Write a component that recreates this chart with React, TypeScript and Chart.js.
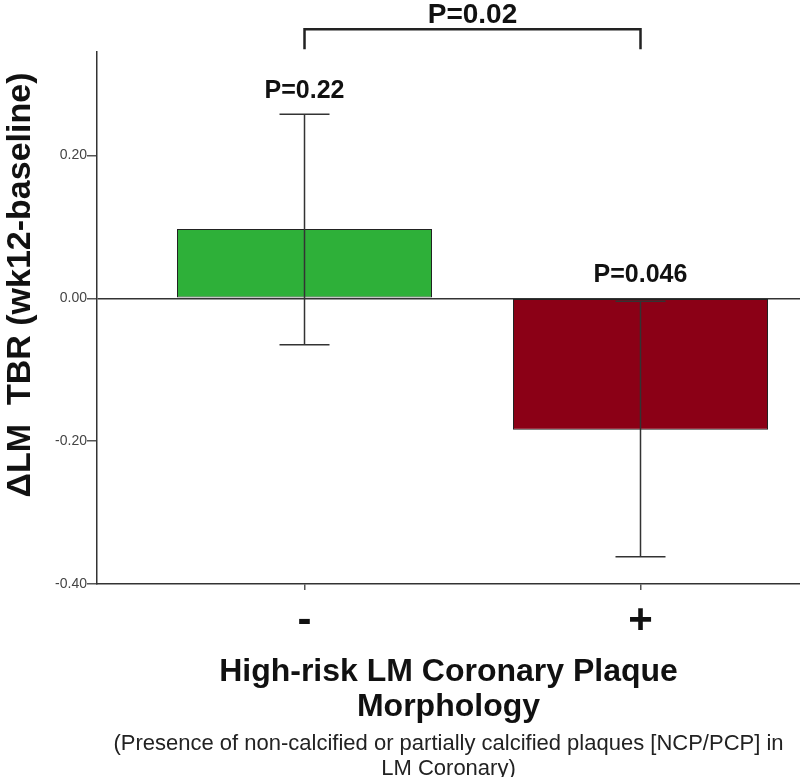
import React, { useEffect, useRef } from "react";
import { Chart, registerables } from "chart.js";

Chart.register(...registerables);

// ---- data ----
const categories = ["-", "+"];
const positions = [0, 1];
const means = [0.097, -0.184];
const errLow = [-0.065, -0.362];
const errHigh = [0.258, -0.004];
const pLabels = ["P=0.22", "P=0.046"];
const barColors = ["#2eb039", "#8b0016"];
const yTicks = [-0.4, -0.2, 0, 0.2];
const comparisonLabel = "P=0.02";
const bracketLevel = 0.377;
const bracketLegEnd = 0.349;
const yTitle = "ΔLM  TBR (wk12-baseline)";
const xTitle = ["High-risk LM Coronary Plaque", "Morphology"];
const xSubtitle = [
  "(Presence of non-calcified or partially calcified plaques [NCP/PCP] in",
  "LM Coronary)",
];

const FONT = "'Liberation Sans', Arial, Helvetica, sans-serif";
const W = 800;
const H = 777;

const annotations = {
  id: "annotations",
  afterDatasetsDraw(chart: any) {
    const { ctx, chartArea } = chart;
    const x = chart.scales.x;
    const y = chart.scales.y;
    ctx.save();
    // error bars
    ctx.strokeStyle = "#333";
    ctx.lineWidth = 1.5;
    positions.forEach((p, i) => {
      const px = x.getPixelForValue(p);
      const top = y.getPixelForValue(errHigh[i]);
      const bot = y.getPixelForValue(errLow[i]);
      ctx.beginPath();
      ctx.moveTo(px, top);
      ctx.lineTo(px, bot);
      ctx.moveTo(px - 25, top);
      ctx.lineTo(px + 25, top);
      ctx.moveTo(px - 25, bot);
      ctx.lineTo(px + 25, bot);
      ctx.stroke();
    });
    // per-group p labels
    ctx.fillStyle = "#111";
    ctx.textAlign = "center";
    ctx.textBaseline = "alphabetic";
    ctx.font = `bold 25px ${FONT}`;
    positions.forEach((p, i) => {
      const px = x.getPixelForValue(p);
      const anchor = y.getPixelForValue(Math.max(0, errHigh[i]));
      ctx.fillText(pLabels[i], px, anchor - 16.5);
    });
    // comparison bracket
    const x0 = x.getPixelForValue(positions[0]);
    const x1 = x.getPixelForValue(positions[1]);
    const by = y.getPixelForValue(bracketLevel);
    const ly = y.getPixelForValue(bracketLegEnd);
    ctx.strokeStyle = "#222";
    ctx.lineWidth = 2.5;
    ctx.beginPath();
    ctx.moveTo(x0, ly);
    ctx.lineTo(x0, by);
    ctx.lineTo(x1, by);
    ctx.lineTo(x1, ly);
    ctx.stroke();
    ctx.font = `bold 28px ${FONT}`;
    ctx.fillText(comparisonLabel, (x0 + x1) / 2, by - 6);
    // y-axis title
    ctx.save();
    ctx.translate(21, (chartArea.top + chartArea.bottom) / 2 - 33);
    ctx.rotate(-Math.PI / 2);
    ctx.font = `bold 34px ${FONT}`;
    ctx.textBaseline = "middle";
    ctx.fillText(yTitle, 0, 0);
    ctx.restore();
    // explanatory subtitle
    ctx.font = `22px ${FONT}`;
    ctx.fillStyle = "#222";
    const cx = (chartArea.left + chartArea.right) / 2;
    ctx.fillText(xSubtitle[0], cx, 750);
    ctx.fillText(xSubtitle[1], cx, 775);
    ctx.restore();
  },
};

export default function App() {
  const ref = useRef<HTMLCanvasElement | null>(null);
  useEffect(() => {
    if (!ref.current) return;
    Chart.defaults.font.family = FONT;
    const chart = new Chart(ref.current, {
      type: "bar",
      data: {
        datasets: [
          {
            data: positions.map((p, i) => ({ x: p, y: means[i] })),
            backgroundColor: barColors,
            borderColor: "#222",
            borderWidth: 1,
            borderSkipped: false,
            categoryPercentage: 1,
            barPercentage: 0.759,
          } as any,
        ],
      },
      options: {
        responsive: false,
        animation: false,
        layout: { padding: { top: 52, left: 0, right: 0, bottom: 50 } },
        plugins: { legend: { display: false }, tooltip: { enabled: false } },
        scales: {
          x: {
            type: "linear",
            offset: false,
            min: -0.6176,
            max: 1.4747,
            afterBuildTicks: (s: any) => {
              s.ticks = positions.map((v) => ({ value: v }));
            },
            afterFit: (s: any) => {
              s.height = H - 584 - 50;
            },
            grid: { offset: false, drawOnChartArea: false, drawTicks: true, tickLength: 6, color: "#555", lineWidth: 1.5 },
            border: { color: "#333", width: 1.5 },
            ticks: {
              callback: (v: any) => {
                const i = positions.indexOf(Number(v));
                return i >= 0 ? categories[i] : "";
              },
              font: { size: 42, weight: "bold", lineHeight: 1 },
              color: "#111",
              padding: 10,
              autoSkip: false,
              maxRotation: 0,
            },
            title: {
              display: true,
              text: xTitle,
              font: { size: 32, weight: "bold", lineHeight: 1.094 },
              color: "#111",
              padding: { top: 0, bottom: 2 },
            },
          },
          y: {
            type: "linear",
            min: -0.4,
            max: 0.345,
            afterBuildTicks: (s: any) => {
              s.ticks = yTicks.map((v) => ({ value: v }));
            },
            afterFit: (s: any) => {
              s.width = 97;
            },
            grid: {
              drawOnChartArea: true,
              drawTicks: true,
              tickLength: 10,
              lineWidth: 1.5,
              color: (c: any) => (c.tick && c.tick.value === 0 ? "#333" : "rgba(0,0,0,0)"),
              tickColor: "#555",
            },
            border: { color: "#333", width: 1.5 },
            ticks: {
              callback: (v: any) => Number(v).toFixed(2),
              font: { size: 14 },
              color: "#444",
              padding: 0,
            },
          },
        },
      },
      plugins: [annotations],
    });
    return () => chart.destroy();
  }, []);
  return (
    <canvas
      ref={ref}
      width={W}
      height={H}
      style={{ position: "absolute", left: 0, top: 0, width: W, height: H }}
    />
  );
}
